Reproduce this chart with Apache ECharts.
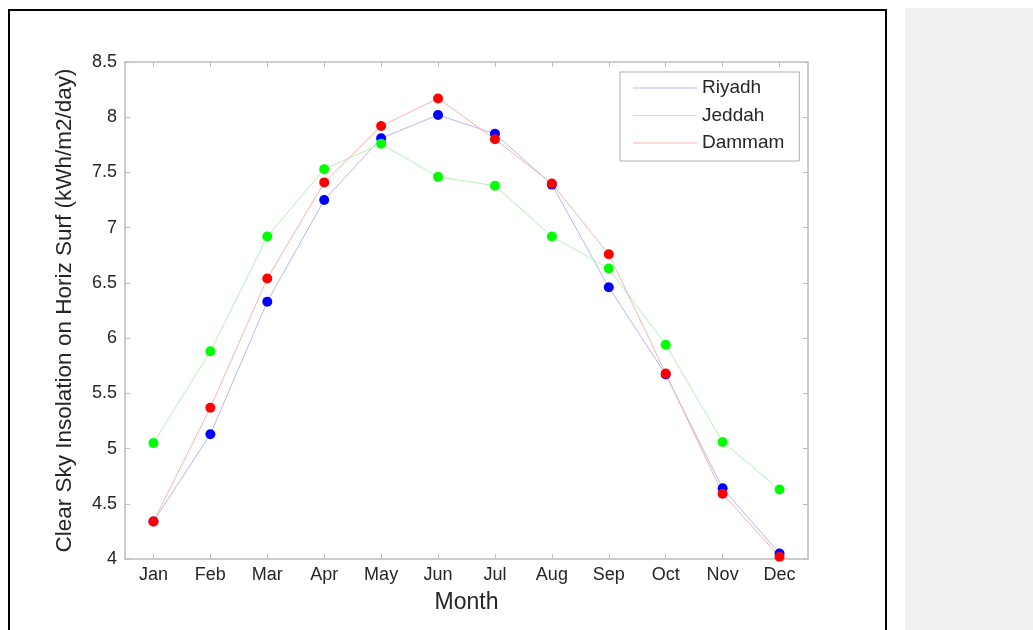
<!DOCTYPE html>
<html>
<head>
<meta charset="utf-8">
<script src="https://cdn.jsdelivr.net/npm/echarts@6/dist/echarts.min.js"></script>
<style>
  html, body { margin: 0; padding: 0; background: #ffffff; }
  #chart { width: 1033px; height: 630px; }
</style>
</head>
<body>
<div id="chart"></div>
<script>
const months = ['Jan','Feb','Mar','Apr','May','Jun','Jul','Aug','Sep','Oct','Nov','Dec'];
const riyadh = [4.34, 5.13, 6.33, 7.25, 7.81, 8.02, 7.85, 7.39, 6.46, 5.67, 4.64, 4.05];
const jeddah = [5.05, 5.88, 6.92, 7.53, 7.76, 7.46, 7.38, 6.92, 6.63, 5.94, 5.06, 4.63];
const dammam = [4.34, 5.37, 6.54, 7.41, 7.92, 8.17, 7.80, 7.40, 6.76, 5.68, 4.59, 4.02];
const seriesNames = ['Riyadh', 'Jeddah', 'Dammam'];
const yTicks = { min: 4, max: 8.5, interval: 0.5 };
const xTitle = 'Month';
const yTitle = 'Clear Sky Insolation on Horiz Surf (kWh/m2/day)';

const lineColors = ['#b8b8f2', '#b4f2b4', '#f5b4b4'];
const markColors = ['#0000ff', '#00ff00', '#ff0000'];
const font = 'Liberation Sans, Arial, Helvetica, sans-serif';
const axisGray = '#bdbdbd';
const textColor = '#262626';

const chart = echarts.init(document.getElementById('chart'), null, { renderer: 'canvas' });

function mkSeries(name, data, i) {
  return {
    name: name, type: 'line', data: data,
    xAxisIndex: 0, yAxisIndex: 0,
    symbol: 'circle', symbolSize: 10,
    lineStyle: { color: lineColors[i], width: 1 },
    itemStyle: { color: markColors[i] },
    emphasis: { disabled: true },
    animation: false
  };
}

const option = {
  backgroundColor: '#ffffff',
  animation: false,
  graphic: [
    { type: 'rect', shape: { x: 905, y: 8, width: 128, height: 640 }, style: { fill: '#f0f0f0' }, z: -10 },
    { type: 'rect', shape: { x: 9, y: 10, width: 877, height: 640 }, style: { fill: null, stroke: '#000000', lineWidth: 2 }, z: -5 }
  ],
  grid: { left: 125, right: 225, top: 62, bottom: 71, containLabel: false },
  legend: {
    orient: 'vertical',
    left: 620, top: 72,
    data: seriesNames.map((n, i) => ({ name: n, icon: 'rect', itemStyle: { color: lineColors[i] } })),
    itemWidth: 64, itemHeight: 1, itemGap: 5.5,
    padding: [5, 15, 7, 13],
    borderColor: '#b0b0b0', borderWidth: 1,
    backgroundColor: '#ffffff',
    textStyle: { fontFamily: font, fontSize: 19, color: textColor, lineHeight: 22 }
  },
  xAxis: [
    {
      type: 'category', data: months, position: 'bottom', boundaryGap: true,
      name: xTitle, nameLocation: 'middle', nameGap: 32,
      nameTextStyle: { fontFamily: font, fontSize: 23, color: textColor },
      axisLine: { show: true, lineStyle: { color: axisGray, width: 1.5 } },
      axisTick: { show: true, inside: true, length: 5, alignWithLabel: true, lineStyle: { color: axisGray } },
      axisLabel: { fontFamily: font, fontSize: 18, color: textColor, margin: 7 },
      splitLine: { show: false }
    },
    {
      type: 'category', data: months, position: 'top', boundaryGap: true,
      axisLine: { show: true, lineStyle: { color: axisGray, width: 1.5 } },
      axisTick: { show: true, inside: true, length: 5, alignWithLabel: true, lineStyle: { color: axisGray } },
      axisLabel: { show: false },
      splitLine: { show: false }
    }
  ],
  yAxis: [
    {
      type: 'value', position: 'left', min: yTicks.min, max: yTicks.max, interval: yTicks.interval,
      name: yTitle, nameLocation: 'middle', nameGap: 49,
      nameTextStyle: { fontFamily: font, fontSize: 22.5, color: textColor },
      axisLine: { show: true, lineStyle: { color: axisGray, width: 1.5 } },
      axisTick: { show: true, inside: true, length: 5, lineStyle: { color: axisGray } },
      axisLabel: { fontFamily: font, fontSize: 18, color: textColor, margin: 8 },
      splitLine: { show: false }
    },
    {
      type: 'value', position: 'right', min: yTicks.min, max: yTicks.max, interval: yTicks.interval,
      axisLine: { show: true, lineStyle: { color: axisGray, width: 1.5 } },
      axisTick: { show: true, inside: true, length: 5, lineStyle: { color: axisGray } },
      axisLabel: { show: false },
      splitLine: { show: false }
    }
  ],
  series: [
    mkSeries(seriesNames[0], riyadh, 0),
    mkSeries(seriesNames[1], jeddah, 1),
    mkSeries(seriesNames[2], dammam, 2)
  ]
};
chart.setOption(option);
</script>
</body>
</html>
